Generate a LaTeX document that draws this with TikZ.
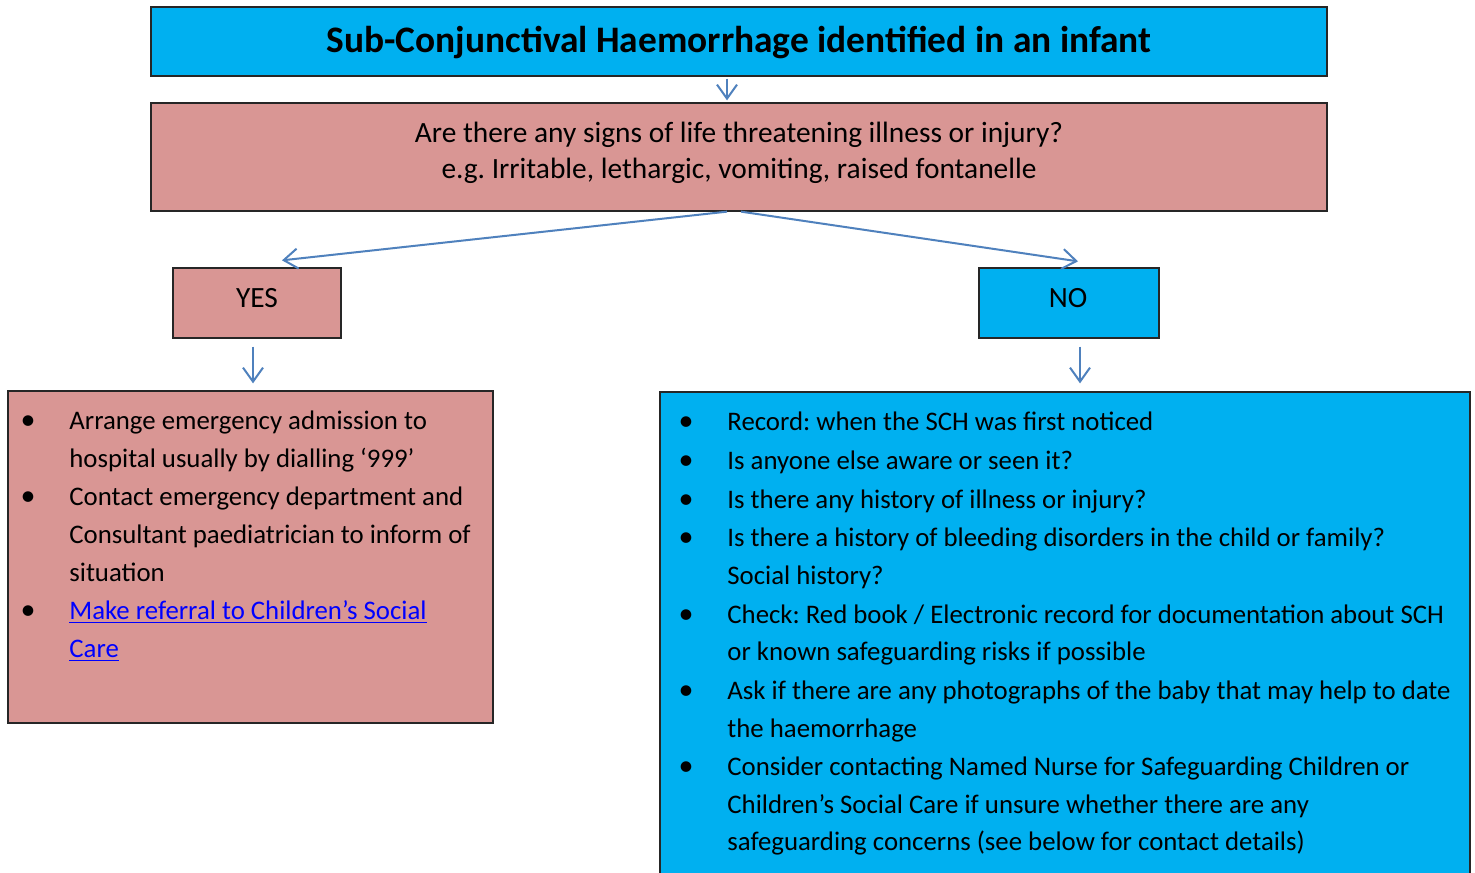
\documentclass[tikz,border=0pt]{standalone}
\usepackage{fontspec}
\setmainfont{Carlito}
\frenchspacing
\usetikzlibrary{arrows.meta}
\definecolor{cyanbox}{HTML}{00B0F0}
\definecolor{pinkbox}{HTML}{D99694}
\definecolor{arrowblue}{HTML}{4F81BD}
\definecolor{linkblue}{HTML}{0000FF}
\definecolor{edge}{HTML}{262626}
\begin{document}
\begin{tikzpicture}[x=0.5pt,y=-0.5pt,
  box/.style={draw=edge,line width=0.65pt,inner sep=0pt},
  arr/.style={draw=arrowblue,line width=1pt,-{Straight Barb[length=7pt,width=10pt]}},
  txt/.style={anchor=base west,inner sep=0pt,font=\fontsize{13.4}{15}\selectfont},
  ctxt/.style={anchor=base,inner sep=0pt,font=\fontsize{14.7}{16}\selectfont},
  bul/.style={anchor=base,inner sep=0pt,font=\fontsize{15}{16}\selectfont}]
\useasboundingbox (0,0) rectangle (1475,872);
\clip (0,0) rectangle (1475,872);
\fill[white] (0,0) rectangle (1475,872);
% boxes
\node[box,fill=cyanbox,minimum width=588pt,minimum height=34.5pt] (title) at (739,41.5) {};
\node[anchor=base,inner sep=0pt,font=\fontsize{18.7}{20}\selectfont\bfseries] (titlet) at (739,53)
  {Sub-Conjunctival Haemorrhage identified in an infant};
\node[box,fill=pinkbox,minimum width=588pt,minimum height=54pt] (q) at (739,157) {};
\node[ctxt] (q1) at (739,142) {Are there any signs of life threatening illness or injury?};
\node[ctxt] (q2) at (739,178) {e.g. Irritable, lethargic, vomiting, raised fontanelle};
\node[box,fill=pinkbox,minimum width=84pt,minimum height=35pt] (yes) at (257,303) {};
\node[ctxt] (yest) at (257,307.5) {YES};
\node[box,fill=cyanbox,minimum width=90pt,minimum height=35pt] (no) at (1069,303) {};
\node[ctxt] (not) at (1068,307.5) {NO};
\node[box,fill=pinkbox,minimum width=242.5pt,minimum height=166pt] (left) at (250.5,557) {};
\node[box,fill=cyanbox,minimum width=405pt,minimum height=244pt] (right) at (1065,636) {};
% connectors
\draw[arr,shorten <=1pt,shorten >=1pt] ([xshift=-6pt]title.south) -- ([xshift=-6pt]q.north);
\draw[arr] ([xshift=-6pt]q.south) -- ([xshift=12.5pt,yshift=3.5pt]yes.north);
\draw[arr] ([xshift=1pt]q.south) -- ([xshift=4.5pt,yshift=3pt]no.north);
\draw[arr,shorten <=4pt,shorten >=3.5pt] ([xshift=-2pt]yes.south) -- ([xshift=1.25pt]left.north);
\draw[arr,shorten <=4pt,shorten >=4pt] ([xshift=5.5pt]no.south) -- ([xshift=7.5pt]right.north);
% left list
\node[bul] (lb1) at (28,429) {•};
\node[bul] (lb2) at (28,505) {•};
\node[bul] (lb3) at (28,619) {•};
\node[txt] (l1) at (69,429) {Arrange emergency admission to};
\node[txt] (l2) at (69,467) {hospital usually by dialling ‘999’};
\node[txt] (l3) at (69,505) {Contact emergency department and};
\node[txt] (l4) at (69,543) {Consultant paediatrician to inform of};
\node[txt] (l5) at (69,581) {situation};
\node[txt,text=linkblue] (l6) at (69,619) {\underline{Make referral to Children’s Social}};
\node[txt,text=linkblue] (l7) at (69,657) {\underline{Care}};
% right list
\node[bul] (rb1) at (686,430) {•};
\node[bul] (rb2) at (686,469) {•};
\node[bul] (rb3) at (686,508) {•};
\node[bul] (rb4) at (686,546) {•};
\node[bul] (rb5) at (686,623) {•};
\node[bul] (rb6) at (686,699) {•};
\node[bul] (rb7) at (686,775) {•};
\node[txt] (r1) at (727,430) {Record: when the SCH was first noticed};
\node[txt] (r2) at (727,469) {Is anyone else aware or seen it?};
\node[txt] (r3) at (727,508) {Is there any history of illness or injury?};
\node[txt] (r4) at (727,546) {Is there a history of bleeding disorders in the child or family?};
\node[txt] (r5) at (727,584) {Social history?};
\node[txt] (r6) at (727,623) {Check: Red book / Electronic record for documentation about SCH};
\node[txt] (r7) at (727,660) {or known safeguarding risks if possible};
\node[txt] (r8) at (727,699) {Ask if there are any photographs of the baby that may help to date};
\node[txt] (r9) at (727,737) {the haemorrhage};
\node[txt] (r10) at (727,775) {Consider contacting Named Nurse for Safeguarding Children or};
\node[txt] (r11) at (727,813) {Children’s Social Care if unsure whether there are any};
\node[txt] (r12) at (727,850) {safeguarding concerns (see below for contact details)};
\end{tikzpicture}
\end{document}
